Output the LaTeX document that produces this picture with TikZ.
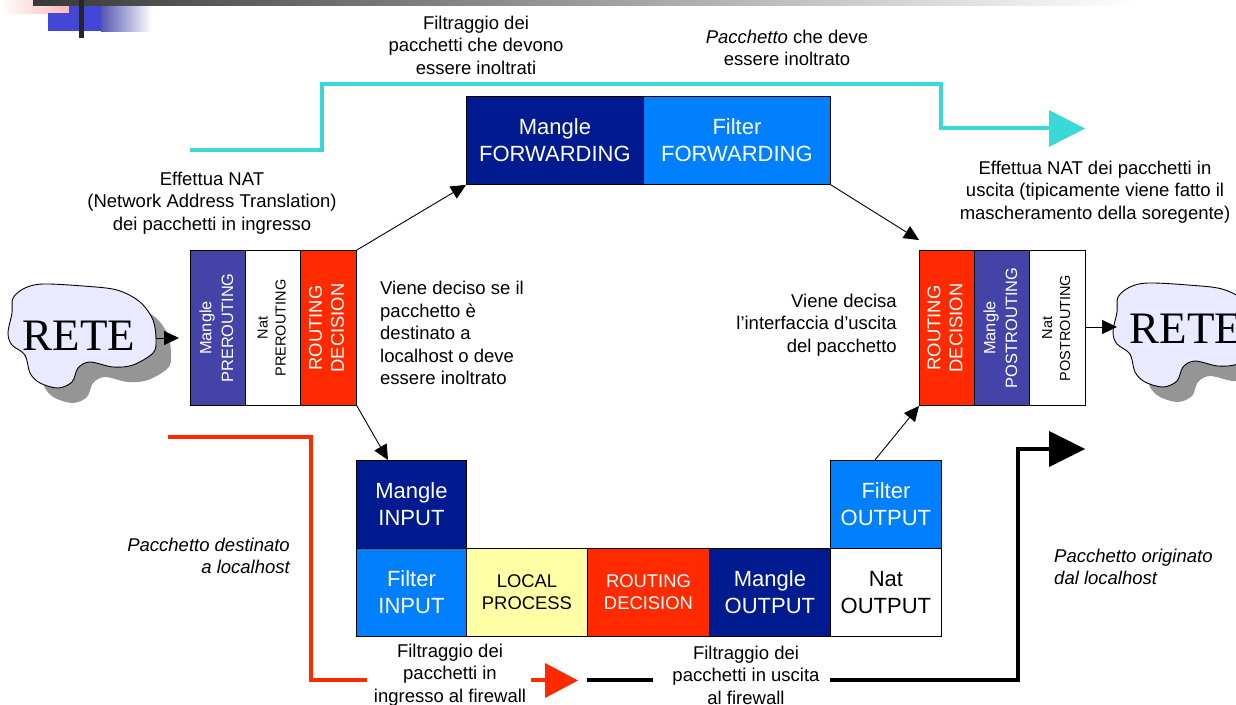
\documentclass[tikz,border=0pt]{standalone}
\usepackage{fontspec}
\usetikzlibrary{arrows.meta}
\setmainfont{Liberation Sans}
\newfontfamily\retefont{Liberation Serif}
\definecolor{dkblue}{HTML}{001A8F}
\definecolor{brblue}{HTML}{0080FF}
\definecolor{redbox}{HTML}{FF2A00}
\definecolor{purbox}{HTML}{4444A8}
\definecolor{yelbox}{HTML}{FFFFA5}
\definecolor{cyanl}{HTML}{3CD8D8}
\definecolor{retefill}{HTML}{E9E9FF}
\definecolor{retesh}{HTML}{959595}
\definecolor{logoblue}{HTML}{4347D6}
\newcommand{\fs}[2]{\fontsize{#1}{#2}\selectfont}
\newcommand{\vtxt}[3]{\rotatebox{90}{\fs{#1}{#2}\begin{tabular}{@{}c@{}}#3\end{tabular}}}
\newcommand{\retepath}{plot[smooth cycle,tension=0.55] coordinates {(13,298) (25,288) (43,284) (83,286) (117,290) (140,302) (153,320) (156,340) (153,353) (133,365) (113,367) (90,362) (78,368) (72,382) (58,388) (40,383) (30,373) (25,355) (12,345) (8,333) (12,313)}}
\tikzset{
  x=1pt,y=-1pt,
  box/.style={draw=black,line width=0.9pt,inner sep=0pt,align=center,anchor=north west},
  big/.style={font=\fs{22}{27}},
  mid/.style={font=\fs{18.4}{22}},
  lab/.style={align=center,font=\fs{18.5}{22.4},inner sep=0pt},
  thin arrow/.style={draw=black,line width=0.9pt,-{Triangle[length=15pt,width=14pt]}},
  thick line/.style={line width=3.6pt},
}
\begin{document}
\begin{tikzpicture}
\useasboundingbox (0,0) rectangle (1236,704);
\clip (0,0) rectangle (1236,704);
% slide decoration
\shade[left color=white,right color=red!28] (0,0) rectangle (69,13);
\fill[logoblue] (48,13) rectangle (101,31);
\fill[logoblue] (69,5) rectangle (101,13);
\shade[left color=purbox!90,right color=white] (101,5) rectangle (152,31);
\shade[left color=black!78,right color=white] (33,0) rectangle (1136,5);
\fill[black!85] (79,0) rectangle (84,38);
% flow lines
\coordinate (c1) at (190,150); \coordinate (c2) at (322,150); \coordinate (c3) at (322,84);
\coordinate (c4) at (941,84); \coordinate (c5) at (941,128); \coordinate (c6) at (1052,128);
\coordinate (r1) at (168,437); \coordinate (r2) at (311,437); \coordinate (r3) at (311,680);
\coordinate (r4) at (367,680); \coordinate (r5) at (531,680); \coordinate (r6) at (547,680);
\coordinate (k1) at (587,680); \coordinate (k2) at (653,680); \coordinate (k3) at (830,680);
\coordinate (k4) at (1018,680); \coordinate (k5) at (1018,449); \coordinate (k6) at (1052,449);
\draw[cyanl,thick line] (c1)--(c2)--(c3)--(c4)--(c5)--(c6);
\fill[cyanl] (1049,110) -- (1085,128.5) -- (1049,147) -- cycle;
\draw[redbox,thick line] (r1)--(r2)--(r3)--(r4);
\draw[redbox,thick line] (r5)--(r6);
\fill[redbox] (545,663) -- (578,680.5) -- (545,698) -- cycle;
\draw[black,thick line] (k1)--(k2);
\draw[black,thick line] (k3)--(k4)--(k5)--(k6);
\fill[black] (1049,431) -- (1085,449) -- (1049,467) -- cycle;
% boxes
\node[box,big,fill=dkblue,text=white,minimum width=177pt,minimum height=88pt] (mfw) at (466,96) {Mangle\\FORWARDING};
\node[box,big,fill=brblue,text=white,minimum width=187pt,minimum height=88pt] (ffw) at (643,96) {Filter\\FORWARDING};
\node[box,fill=purbox,text=white,minimum width=55pt,minimum height=155pt] (mpre) at (190,250) {\vtxt{16.4}{21.7}{Mangle\\PREROUTING}};
\node[box,fill=white,minimum width=55pt,minimum height=155pt] (npre) at (245,250) {\vtxt{14.5}{18}{Nat\\PREROUTING}};
\node[box,fill=redbox,text=white,minimum width=56pt,minimum height=155pt] (rl) at (300,250) {\vtxt{18.4}{22}{ROUTING\\DECISION}};
\node[box,fill=redbox,text=white,minimum width=55pt,minimum height=155pt] (rr) at (919,250) {\vtxt{18.4}{22}{ROUTING\\DECISION}};
\node[box,fill=purbox,text=white,minimum width=55pt,minimum height=155pt] (mpost) at (974,250) {\vtxt{16.4}{21.7}{Mangle\\POSTROUTING}};
\node[box,fill=white,minimum width=56pt,minimum height=155pt] (npost) at (1029,250) {\vtxt{14.5}{18}{Nat\\POSTROUTING}};
\node[box,big,fill=dkblue,text=white,minimum width=110pt,minimum height=88pt] (min) at (356,460) {Mangle\\INPUT};
\node[box,big,fill=brblue,text=white,minimum width=110pt,minimum height=88pt] (fin) at (356,548) {Filter\\INPUT};
\node[box,mid,fill=yelbox,minimum width=121pt,minimum height=88pt] (lp) at (466,548) {LOCAL\\PROCESS};
\node[box,mid,fill=redbox,text=white,minimum width=122pt,minimum height=88pt] (rb) at (587,548) {ROUTING\\DECISION};
\node[box,big,fill=dkblue,text=white,minimum width=121pt,minimum height=88pt] (mout) at (709,548) {Mangle\\OUTPUT};
\node[box,big,fill=white,minimum width=111pt,minimum height=88pt] (nout) at (830,548) {Nat\\OUTPUT};
\node[box,big,fill=brblue,text=white,minimum width=111pt,minimum height=88pt] (fout) at (830,460) {Filter\\OUTPUT};
% RETE clouds
\fill[retesh,shift={(15,15)}] \retepath;
\draw[fill=retefill,line width=0.9pt] \retepath;
\node[anchor=base,inner sep=0pt,font=\retefont\fs{45}{54}] (retea) at (79,350) {RETE};
\begin{scope}[shift={(1105,-1)}]
\fill[retesh,shift={(15,15)}] \retepath;
\draw[fill=retefill,line width=0.9pt] \retepath;
\end{scope}
\node[anchor=base,inner sep=0pt,font=\retefont\fs{45}{54}] (reteb) at (1186,343) {RETE};
% connectors
\coordinate (a1) at (388,460); \coordinate (a2) at (919,240); \coordinate (a3) at (875,460);
\coordinate (a4) at (156,338); \coordinate (a5) at (179,338); \coordinate (a6) at (1117,327);
\draw[thin arrow] (rl.north east) -- (mfw.south west);
\draw[thin arrow] (ffw.south east) -- (a2);
\draw[thin arrow] (rl.south east) -- (a1);
\draw[thin arrow] (a3) -- (rr.south west);
\draw[thin arrow] (a4) -- (a5);
\draw[thin arrow] (npost.east |- a6) -- (a6);
% labels
\node[lab] (t1) at (476,45) {Filtraggio dei\\pacchetti che devono\\essere inoltrati};
\node[lab] (t2) at (787,48) {\textit{Pacchetto} che deve\\essere inoltrato};
\node[lab] (t3) at (212,203) {Effettua NAT\\(Network Address Translation)\\dei pacchetti in ingresso};
\node[lab] (t4) at (1095,192) {Effettua NAT dei pacchetti in\\uscita (tipicamente viene fatto il\\mascheramento della soregente)};
\node[lab,align=left,anchor=west] (t5) at (380,333) {Viene deciso se il\\pacchetto è\\destinato a\\localhost o deve\\essere inoltrato};
\node[lab,align=right,anchor=east] (t6) at (897,325) {Viene decisa\\l’interfaccia d’uscita\\del pacchetto};
\node[lab,align=right,anchor=east,font=\fs{18.5}{22.4}\itshape] (t7) at (290,556) {Pacchetto destinato\\a localhost};
\node[lab,align=left,anchor=west,font=\fs{18.5}{22.4}\itshape] (t8) at (1054,567) {Pacchetto originato\\dal localhost};
\node[lab] (t9) at (450,675) {Filtraggio dei\\pacchetti in\\ingresso al firewall};
\node[lab] (t10) at (746,675) {Filtraggio dei\\pacchetti in uscita\\al firewall};
\end{tikzpicture}
\end{document}
